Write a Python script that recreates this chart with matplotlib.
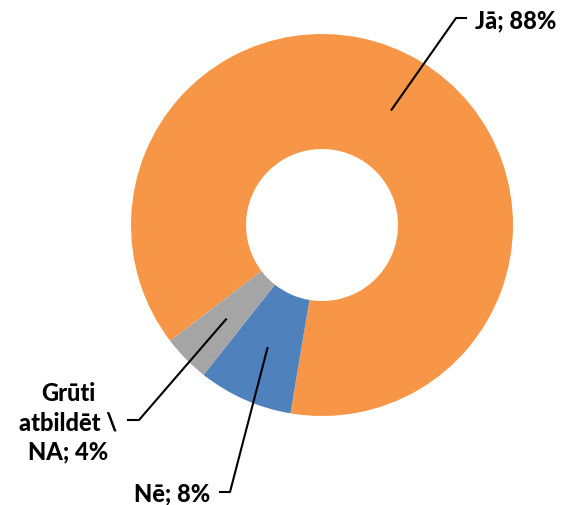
import numpy as np
import matplotlib
matplotlib.use("Agg")
import matplotlib.pyplot as plt
from matplotlib.lines import Line2D

labels = ["Jā", "Nē", "Grūti\natbildēt \\\nNA"]
values = [88, 8, 4]
colors = ["#F79646", "#4F81BD", "#A5A5A5"]

W, H = 561, 506
fig = plt.figure(figsize=(W / 100, H / 100), dpi=100)
fig.patch.set_facecolor("white")

cx, cy, R = 322, 226, 191
ax = fig.add_axes([(cx - R) / W, (H - cy - R) / H, 2 * R / W, 2 * R / H])
ax.axis("off")

hole = 76 / 191
start = 90 - 232.7
wedges, _ = ax.pie(values, colors=colors, startangle=start, counterclock=False,
                   radius=1.0, wedgeprops=dict(width=1 - hole, linewidth=0))
ax.set_xlim(-1, 1)
ax.set_ylim(-1, 1)
ax.set_aspect("equal")

font = dict(family=["Lato", "DejaVu Sans"], weight=900, size=17, color="black")

def px(x, y):
    return (x / W, 1 - y / H)

# label layout: (elbow point, end point, text pos, ha)
layout = [
    ((456, 19), (466, 19), (475, 21), "left"),
    ((230, 493), (220, 493), (134, 494), "left"),
    ((139, 421), (128, 421), (68, 423), "center"),
]

for w, lab, v, (elb, end, tpos, ha) in zip(wedges, labels, values, layout):
    mid = np.deg2rad((w.theta1 + w.theta2) / 2)
    r = 0.705
    anchor = (r * np.cos(mid), r * np.sin(mid))
    disp = ax.transData.transform(anchor)
    a_fig = fig.transFigure.inverted().transform(disp)
    e1 = px(*elb)
    e2 = px(*end)
    fig.add_artist(Line2D([a_fig[0], e1[0], e2[0]], [a_fig[1], e1[1], e2[1]],
                          transform=fig.transFigure, color="black", linewidth=1.5))
    t = px(*tpos)
    fig.text(t[0], t[1], f"{lab}; {v}%", ha=ha, va="center", multialignment="center",
             linespacing=1.32, **font)

fig.savefig("out.png", dpi=100, facecolor="white")
